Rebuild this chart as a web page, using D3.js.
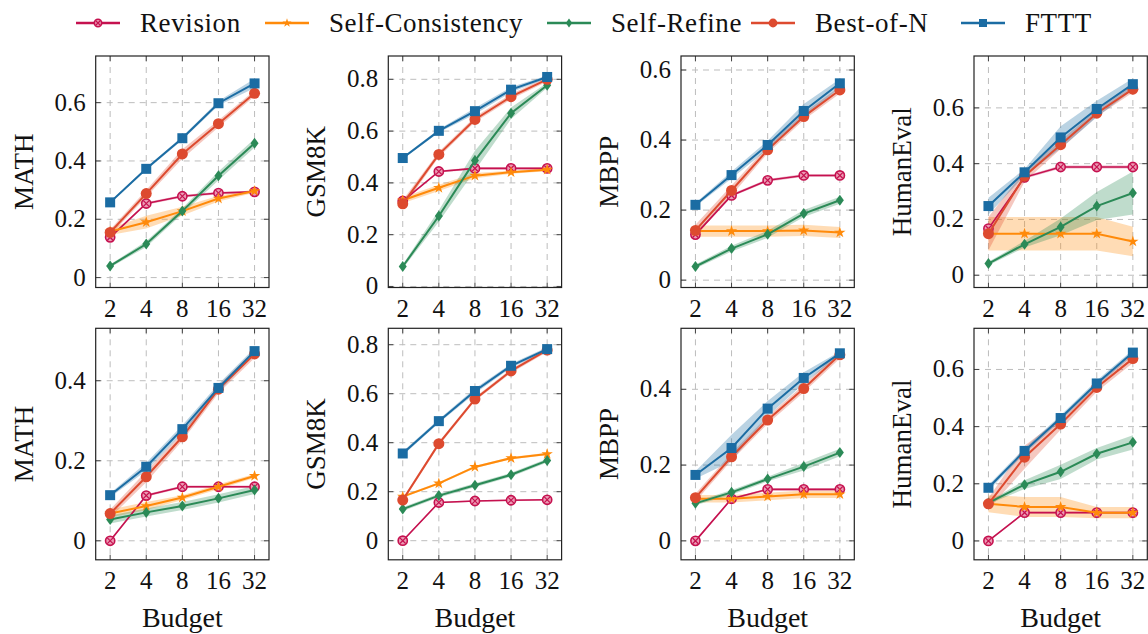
<!DOCTYPE html>
<html>
<head>
<meta charset="UTF-8" />
<title>Budget scaling</title>
<script src="https://d3js.org/d3.v7.min.js"></script>
<style>
  body { margin: 0; background: #fff; }
</style>
</head>
<body>
<svg id="chart" width="1148" height="634"></svg>
<script>
const budgets = [2, 4, 8, 16, 32];
const methods = ['Revision', 'Self-Consistency', 'Self-Refine', 'Best-of-N', 'FTTT'];
const colors = ['#c5114f', '#ff8a0a', '#2b8a57', '#dd4a2f', '#1b6ca3'];
const marks = ['otimes', 'star', 'diamond', 'circle', 'square'];

// rows: Revision, Self-Consistency, Self-Refine, Best-of-N, FTTT
const mathTop = [
  [0.138, 0.254, 0.279, 0.290, 0.294],
  [0.158, 0.190, 0.228, 0.271, 0.297],
  [0.040, 0.115, 0.228, 0.349, 0.461],
  [0.155, 0.288, 0.424, 0.528, 0.632],
  [0.258, 0.373, 0.478, 0.598, 0.666]
];
const mathTopErr = [
  [0.004, 0.004, 0.004, 0.004, 0.004],
  [0.012, 0.022, 0.015, 0.010, 0.006],
  [0.005, 0.010, 0.010, 0.015, 0.015],
  [0.010, 0.012, 0.016, 0.012, 0.010],
  [0.005, 0.005, 0.006, 0.008, 0.016]
];
const gsmTop = [
  [0.330, 0.444, 0.456, 0.456, 0.456],
  [0.333, 0.381, 0.428, 0.441, 0.451],
  [0.077, 0.272, 0.486, 0.669, 0.777],
  [0.319, 0.510, 0.645, 0.733, 0.800],
  [0.496, 0.601, 0.677, 0.760, 0.809]
];
const gsmTopErr = [
  [0.004, 0.004, 0.004, 0.004, 0.004],
  [0.012, 0.012, 0.010, 0.006, 0.006],
  [0.008, 0.022, 0.038, 0.022, 0.010],
  [0.015, 0.010, 0.010, 0.010, 0.008],
  [0.005, 0.006, 0.012, 0.010, 0.006]
];
const mbppTop = [
  [0.130, 0.242, 0.285, 0.299, 0.299],
  [0.140, 0.140, 0.140, 0.142, 0.136],
  [0.039, 0.090, 0.131, 0.190, 0.228],
  [0.142, 0.256, 0.372, 0.467, 0.543],
  [0.215, 0.300, 0.386, 0.483, 0.562]
];
const mbppTopErr = [
  [0.004, 0.004, 0.004, 0.004, 0.004],
  [0.016, 0.016, 0.016, 0.016, 0.016],
  [0.006, 0.008, 0.010, 0.010, 0.010],
  [0.016, 0.014, 0.010, 0.010, 0.010],
  [0.005, 0.010, 0.012, 0.020, 0.012]
];
const humanTop = [
  [0.167, 0.351, 0.388, 0.388, 0.388],
  [0.149, 0.149, 0.149, 0.149, 0.121],
  [0.042, 0.111, 0.173, 0.248, 0.295],
  [0.149, 0.355, 0.468, 0.581, 0.667],
  [0.248, 0.369, 0.494, 0.596, 0.685]
];
const humanTopErr = [
  [0.005, 0.005, 0.005, 0.005, 0.005],
  [0.060, 0.060, 0.060, 0.060, 0.053],
  [0.006, 0.012, 0.030, 0.050, 0.077],
  [0.060, 0.020, 0.015, 0.012, 0.012],
  [0.030, 0.012, 0.040, 0.030, 0.020]
];

const mathBot = [
  [0.000, 0.113, 0.135, 0.135, 0.135],
  [0.068, 0.087, 0.108, 0.135, 0.162],
  [0.053, 0.071, 0.087, 0.106, 0.127],
  [0.068, 0.160, 0.260, 0.379, 0.467],
  [0.114, 0.185, 0.279, 0.382, 0.474]
];
const mathBotErr = [
  [0.003, 0.003, 0.003, 0.003, 0.003],
  [0.010, 0.010, 0.006, 0.006, 0.005],
  [0.010, 0.010, 0.010, 0.010, 0.010],
  [0.010, 0.014, 0.010, 0.010, 0.010],
  [0.005, 0.010, 0.010, 0.010, 0.008]
];
const gsmBot = [
  [0.000, 0.156, 0.162, 0.165, 0.167],
  [0.180, 0.234, 0.301, 0.337, 0.354],
  [0.129, 0.184, 0.226, 0.269, 0.327],
  [0.166, 0.396, 0.578, 0.693, 0.778],
  [0.356, 0.488, 0.611, 0.714, 0.782]
];
const gsmBotErr = [
  [0.003, 0.003, 0.003, 0.003, 0.003],
  [0.005, 0.005, 0.005, 0.005, 0.005],
  [0.008, 0.008, 0.008, 0.008, 0.008],
  [0.008, 0.008, 0.008, 0.008, 0.008],
  [0.008, 0.008, 0.010, 0.008, 0.008]
];
const mbppBot = [
  [0.000, 0.111, 0.136, 0.136, 0.136],
  [0.111, 0.111, 0.117, 0.123, 0.123],
  [0.099, 0.128, 0.163, 0.196, 0.233],
  [0.114, 0.222, 0.319, 0.402, 0.491],
  [0.174, 0.245, 0.349, 0.430, 0.495]
];
const mbppBotErr = [
  [0.003, 0.003, 0.003, 0.003, 0.003],
  [0.010, 0.010, 0.010, 0.010, 0.010],
  [0.005, 0.006, 0.006, 0.010, 0.010],
  [0.010, 0.010, 0.010, 0.010, 0.010],
  [0.010, 0.035, 0.020, 0.015, 0.005]
];
const humanBot = [
  [0.000, 0.099, 0.099, 0.099, 0.099],
  [0.130, 0.119, 0.119, 0.099, 0.099],
  [0.133, 0.197, 0.242, 0.305, 0.345],
  [0.130, 0.293, 0.409, 0.537, 0.638],
  [0.186, 0.315, 0.430, 0.551, 0.659]
];
const humanBotErr = [
  [0.003, 0.003, 0.003, 0.003, 0.003],
  [0.030, 0.035, 0.035, 0.020, 0.020],
  [0.005, 0.015, 0.025, 0.020, 0.025],
  [0.020, 0.040, 0.020, 0.015, 0.015],
  [0.010, 0.010, 0.010, 0.010, 0.010]
];

const yTicks = [
  [0, 0.2, 0.4, 0.6], [0, 0.2, 0.4, 0.6, 0.8], [0, 0.2, 0.4, 0.6], [0, 0.2, 0.4, 0.6],
  [0, 0.2, 0.4], [0, 0.2, 0.4, 0.6, 0.8], [0, 0.2, 0.4], [0, 0.2, 0.4, 0.6]
];
const yDomains = [
  [-0.034, 0.76], [-0.004, 0.89], [-0.021, 0.64], [-0.044, 0.786],
  [-0.0475, 0.531], [-0.078, 0.867], [-0.05, 0.561], [-0.066, 0.744]
];
const names = ['MATH', 'GSM8K', 'MBPP', 'HumanEval', 'MATH', 'GSM8K', 'MBPP', 'HumanEval'];
const values = [mathTop, gsmTop, mbppTop, humanTop, mathBot, gsmBot, mbppBot, humanBot];
const errors = [mathTopErr, gsmTopErr, mbppTopErr, humanTopErr, mathBotErr, gsmBotErr, mbppBotErr, humanBotErr];

// layout
const colLeft = [95.7, 388.3, 681, 974];
const rowTop = [56, 328.3];
const pw = 173.3, ph = 231.5;
const legendX = [76, 265, 547, 751, 961];
const FONT = "Liberation Serif";

const svg = d3.select('#chart');
const fmt = d => d === 0 ? '0' : d3.format('.1f')(d);

function drawMark(g, type, color, s) {
  s = s || 1;
  if (type === 'square') {
    g.append('rect').attr('x', -5 * s).attr('y', -5 * s).attr('width', 10 * s).attr('height', 10 * s)
      .attr('fill', color);
  } else if (type === 'circle') {
    g.append('circle').attr('r', 5.5 * s).attr('fill', color);
  } else if (type === 'diamond') {
    g.append('path').attr('d', `M0,${-5.5 * s}L${4 * s},0L0,${5.5 * s}L${-4 * s},0Z`).attr('fill', color);
  } else if (type === 'star') {
    g.append('path').attr('d', d3.symbol(d3.symbolStar, 40 * s * s)()).attr('fill', color);
  } else if (type === 'otimes') {
    const r = 4.6 * s, k = r * 0.62;
    g.append('circle').attr('r', r).attr('fill', '#ec9ab4').attr('stroke', color).attr('stroke-width', 1.6);
    g.append('path').attr('d', `M${-k},${-k}L${k},${k}M${-k},${k}L${k},${-k}`)
      .attr('stroke', color).attr('stroke-width', 1.2);
  }
}

values.forEach((vals, p) => {
  const col = p % 4, row = Math.floor(p / 4);
  const left = colLeft[col], top = rowTop[row];
  const x = d3.scaleLog().base(2).domain([2 / 2 ** 0.4, 32 * 2 ** 0.4]).range([left, left + pw]);
  const y = d3.scaleLinear().domain(yDomains[p]).range([top + ph, top]);
  const g = svg.append('g');

  // grid
  g.selectAll('.vg').data(budgets).join('line')
    .attr('x1', d => x(d)).attr('x2', d => x(d)).attr('y1', top).attr('y2', top + ph)
    .attr('stroke', '#bdbdbd').attr('stroke-width', 1).attr('stroke-dasharray', '6,5');
  g.selectAll('.hg').data(yTicks[p]).join('line')
    .attr('x1', left).attr('x2', left + pw).attr('y1', d => y(d)).attr('y2', d => y(d))
    .attr('stroke', '#bdbdbd').attr('stroke-width', 1).attr('stroke-dasharray', '6,5');

  // tick marks inside on all sides
  budgets.forEach(b => {
    g.append('line').attr('x1', x(b)).attr('x2', x(b)).attr('y1', top + ph).attr('y2', top + ph - 5).attr('stroke', '#444');
    g.append('line').attr('x1', x(b)).attr('x2', x(b)).attr('y1', top).attr('y2', top + 5).attr('stroke', '#444');
  });
  yTicks[p].forEach(t => {
    g.append('line').attr('x1', left).attr('x2', left + 5).attr('y1', y(t)).attr('y2', y(t)).attr('stroke', '#444');
    g.append('line').attr('x1', left + pw).attr('x2', left + pw - 5).attr('y1', y(t)).attr('y2', y(t)).attr('stroke', '#444');
  });

  // bands
  vals.forEach((series, m) => {
    const err = errors[p][m];
    const area = d3.area()
      .x((d, i) => x(budgets[i]))
      .y0((d, i) => y(d - err[i]))
      .y1((d, i) => y(d + err[i]));
    g.append('path').attr('d', area(series)).attr('fill', colors[m]).attr('fill-opacity', 0.3);
  });

  // lines + markers
  vals.forEach((series, m) => {
    const line = d3.line().x((d, i) => x(budgets[i])).y(d => y(d));
    g.append('path').attr('d', line(series)).attr('fill', 'none')
      .attr('stroke', colors[m]).attr('stroke-width', m === 0 ? 1.6 : 2);
    series.forEach((v, i) => {
      const mg = g.append('g').attr('transform', `translate(${x(budgets[i])},${y(v)})`);
      drawMark(mg, marks[m], colors[m]);
    });
  });

  // frame
  g.append('rect').attr('x', left).attr('y', top).attr('width', pw).attr('height', ph)
    .attr('fill', 'none').attr('stroke', '#222').attr('stroke-width', 1.2);

  // tick labels
  g.selectAll('.yl').data(yTicks[p]).join('text')
    .attr('x', left - 10).attr('y', d => y(d) + 8)
    .attr('font-family', FONT).attr('fill', '#111')
    .attr('text-anchor', 'end').attr('font-size', 25).text(fmt);
  g.selectAll('.xl').data(budgets).join('text')
    .attr('x', d => x(d)).attr('y', top + ph + 29)
    .attr('font-family', FONT).attr('fill', '#111')
    .attr('text-anchor', 'middle').attr('font-size', 25).text(d => d);

  // axis labels
  g.append('text').attr('transform', `translate(${left - 63},${top + ph / 2}) rotate(-90)`)
    .attr('font-family', FONT).attr('fill', '#111')
    .attr('text-anchor', 'middle').attr('font-size', 27).text(names[p]);
  if (row === 1) {
    g.append('text').attr('x', left + pw / 2).attr('y', 627)
      .attr('font-family', FONT).attr('fill', '#111')
      .attr('text-anchor', 'middle').attr('font-size', 28).text('Budget');
  }
});

// legend
const lg = svg.append('g');
methods.forEach((name, m) => {
  const lx = legendX[m];
  lg.append('line').attr('x1', lx).attr('x2', lx + 44).attr('y1', 23).attr('y2', 23)
    .attr('stroke', colors[m]).attr('stroke-width', 2.5);
  drawMark(lg.append('g').attr('transform', `translate(${lx + 22},23)`), marks[m], colors[m], 0.8);
  lg.append('text').attr('x', lx + 64).attr('y', 32).attr('font-size', 27)
    .attr('font-family', FONT).attr('fill', '#111')
    .attr('letter-spacing', 0.6).text(name);
});
</script>
</body>
</html>
